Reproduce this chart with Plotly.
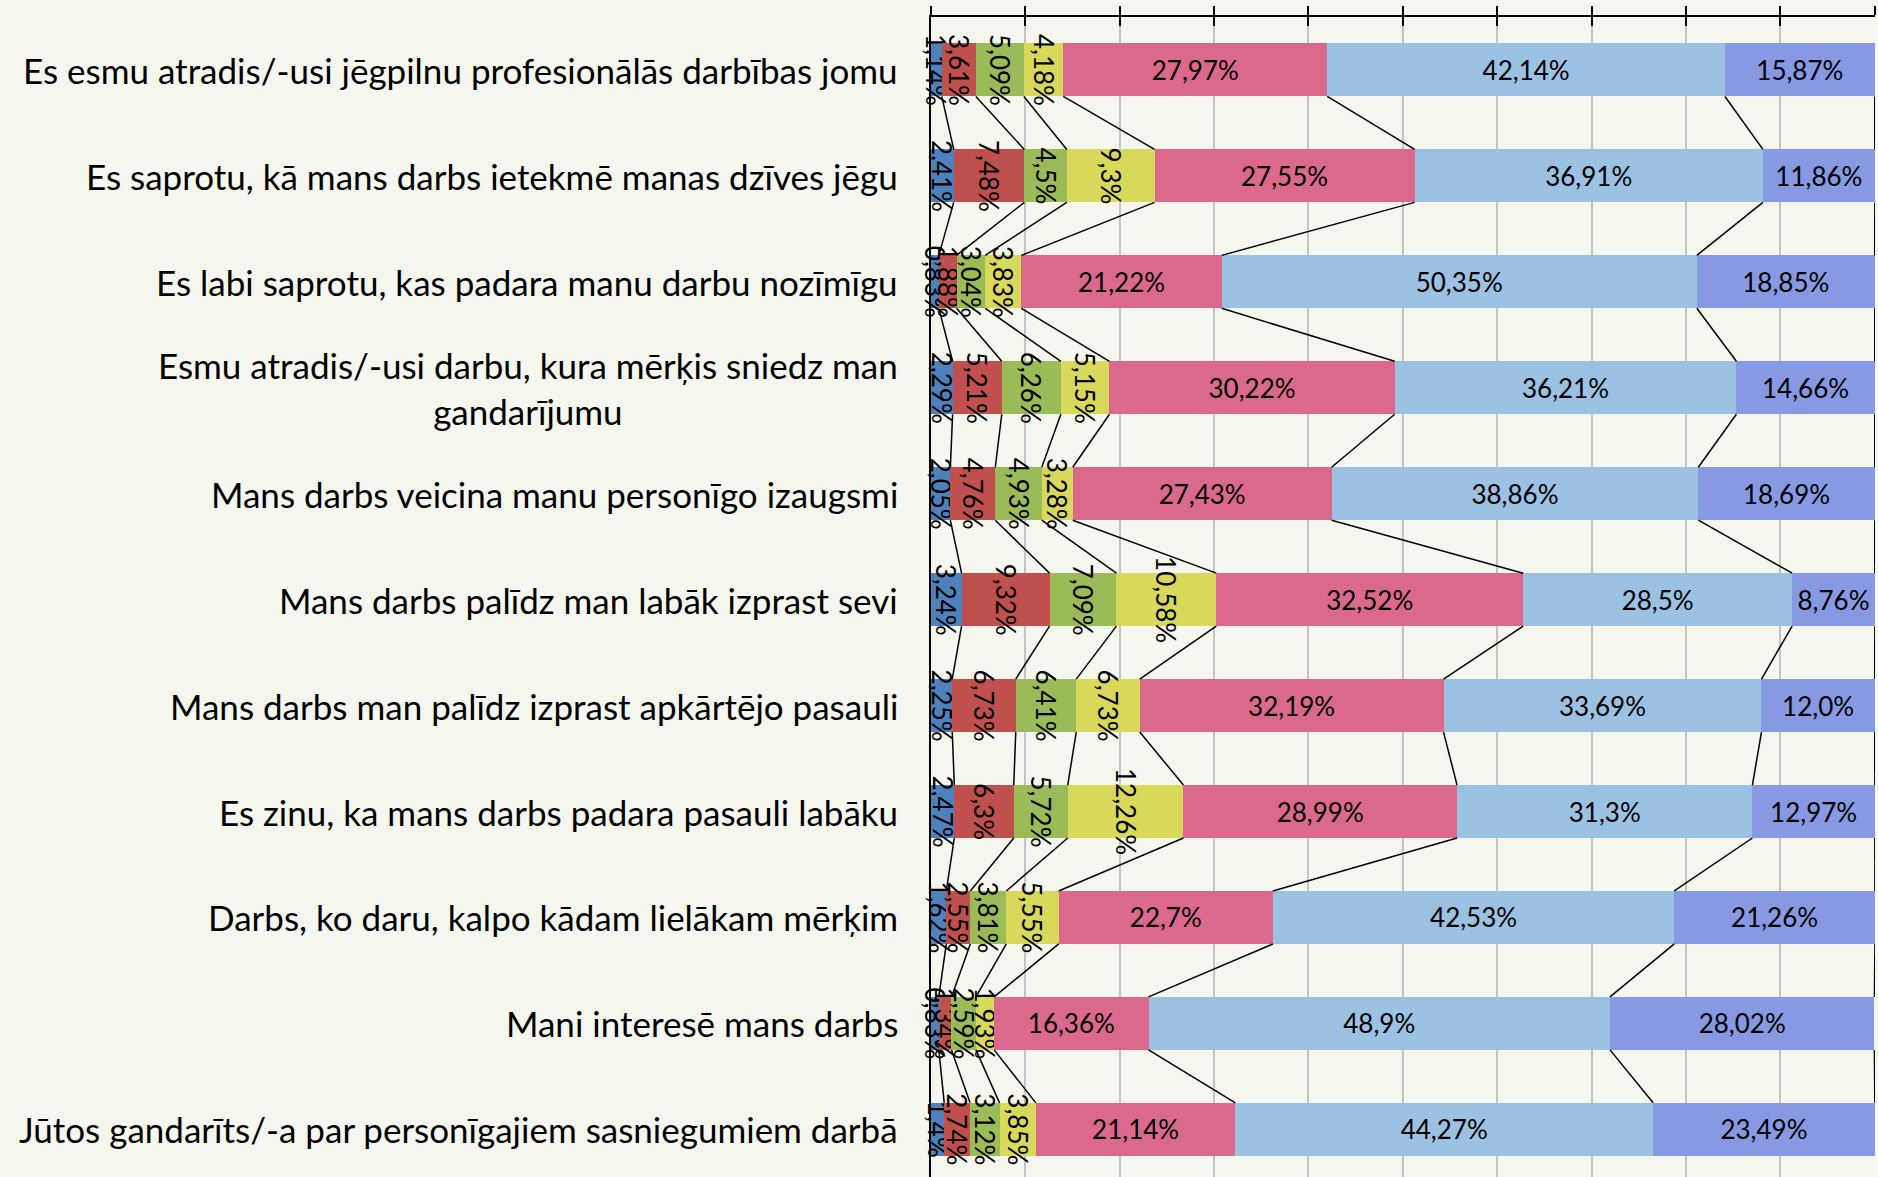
import plotly.graph_objects as go

# categories top -> bottom
categories = [
    "Es esmu atradis/-usi jēgpilnu profesionālās darbības jomu",
    "Es saprotu, kā mans darbs ietekmē manas dzīves jēgu",
    "Es labi saprotu, kas padara manu darbu nozīmīgu",
    "Esmu atradis/-usi darbu, kura mērķis sniedz man<br>gandarījumu",
    "Mans darbs veicina manu personīgo izaugsmi",
    "Mans darbs palīdz man labāk izprast sevi",
    "Mans darbs man palīdz izprast apkārtējo pasauli",
    "Es zinu, ka mans darbs padara pasauli labāku",
    "Darbs, ko daru, kalpo kādam lielākam mērķim",
    "Mani interesē mans darbs",
    "Jūtos gandarīts/-a par personīgajiem sasniegumiem darbā",
]

# one list per answer level (share of respondents, %)
level_1 = [1.14, 2.41, 0.83, 2.29, 2.05, 3.24, 2.25, 2.47, 1.62, 0.83, 1.4]
level_2 = [3.61, 7.48, 1.88, 5.21, 4.76, 9.32, 6.73, 6.3, 2.55, 1.34, 2.74]
level_3 = [5.09, 4.5, 3.04, 6.26, 4.93, 7.09, 6.41, 5.72, 3.81, 2.59, 3.12]
level_4 = [4.18, 9.3, 3.83, 5.15, 3.28, 10.58, 6.73, 12.26, 5.55, 1.93, 3.85]
level_5 = [27.97, 27.55, 21.22, 30.22, 27.43, 32.52, 32.19, 28.99, 22.7, 16.36, 21.14]
level_6 = [42.14, 36.91, 50.35, 36.21, 38.86, 28.5, 33.69, 31.3, 42.53, 48.9, 44.27]
level_7 = [15.87, 11.86, 18.85, 14.66, 18.69, 8.76, 12.0, 12.97, 21.26, 28.02, 23.49]

series = [level_1, level_2, level_3, level_4, level_5, level_6, level_7]
colors = ["#4f81bd", "#c0504d", "#9bbb59", "#d8d85b", "#da698c", "#9bc1e3", "#8699e2"]
rotated = [True, True, True, True, False, False, False]

BG = "#f5f7ef"
BAR_W = 0.5
ypos = list(range(len(categories)))


def fmt(v):
    return str(v).replace(".", ",") + "%"


fig = go.Figure()

# stacked bars
for vals, col, rot in zip(series, colors, rotated):
    fig.add_trace(go.Bar(
        y=ypos,
        x=vals,
        orientation="h",
        width=BAR_W,
        marker=dict(color=col, line=dict(width=0)),
        text=[fmt(v) for v in vals],
        textposition="inside",
        insidetextanchor="middle",
        textangle=90 if rot else 0,
        constraintext="none",
        textfont=dict(family="Lato", size=26, color="black"),
        cliponaxis=False,
        hoverinfo="skip",
        showlegend=False,
    ))

# series lines between the segment boundaries of neighbouring bars
cum = [0.0] * len(categories)
for vals in series:
    cum = [c + v for c, v in zip(cum, vals)]
    xs, ys = [], []
    for i in range(len(categories) - 1):
        xs += [cum[i], cum[i + 1], None]
        ys += [i + BAR_W / 2, i + 1 - BAR_W / 2, None]
    fig.add_trace(go.Scatter(
        x=xs, y=ys, mode="lines",
        line=dict(color="black", width=1.5),
        hoverinfo="skip", showlegend=False,
    ))

# dummy trace so the overlay axis (inner half of the tick marks) gets drawn
fig.add_trace(go.Scatter(x=[None], y=[None], xaxis="x2", showlegend=False))

# category labels as annotations so the wrapped one is centred like the original
for i, cat in enumerate(categories):
    fig.add_annotation(
        x=0, xref="paper", y=i, yref="y",
        text=cat, showarrow=False,
        xanchor="right", yanchor="middle", align="center",
        xshift=-31,
        font=dict(family="Lato", size=35, color="black"),
    )

fig.update_layout(
    width=1878,
    height=1177,
    barmode="stack",
    paper_bgcolor=BG,
    plot_bgcolor=BG,
    margin=dict(l=931, r=3, t=17, b=0),
    font=dict(family="Lato", color="black"),
    xaxis=dict(
        range=[0, 100.03], tickvals=list(range(0, 101, 10)), side="top",
        showticklabels=False, ticks="outside", ticklen=9, tickwidth=2, tickcolor="black",
        showline=True, linecolor="black", linewidth=2,
        showgrid=True, gridcolor="#c4c4c4", gridwidth=2, zeroline=False,
    ),
    xaxis2=dict(
        range=[0, 100.03], tickvals=list(range(0, 101, 10)), side="top", overlaying="x",
        showticklabels=False, ticks="inside", ticklen=9, tickwidth=2, tickcolor="black",
        showline=False, showgrid=False, zeroline=False,
    ),
    yaxis=dict(
        range=[10.45, -0.5],
        showticklabels=False, ticks="",
        showline=True, linecolor="black", linewidth=2,
        showgrid=False, zeroline=False,
    ),
)

fig.write_html(
    "out.html",
    config={"displayModeBar": False},
    post_script="document.body.style.margin='0';",
)
